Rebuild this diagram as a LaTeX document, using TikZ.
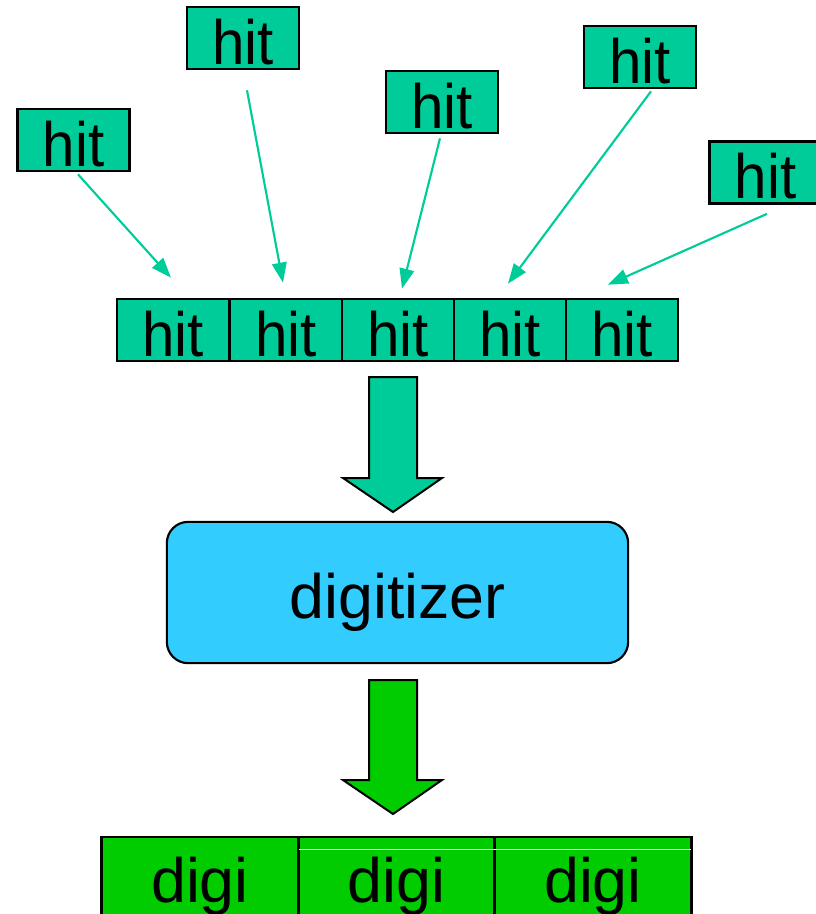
\documentclass[tikz,border=0pt]{standalone}
\usepackage{fontspec}
\usepackage{graphicx}
\setmainfont{Liberation Sans}
\usetikzlibrary{arrows.meta,calc}
\definecolor{hitfill}{HTML}{00CC99}
\definecolor{digifill}{HTML}{00CC00}
\definecolor{procfill}{HTML}{33CCFF}
\newcommand\hittext{\scalebox{0.93}[1]{hit}}
\begin{document}
\begin{tikzpicture}[x=0.75pt,y=-0.75pt,
  bigtext/.style={font=\fontsize{47}{50}\selectfont, text height=39pt, text depth=0pt},
  hitbox/.style={bigtext, draw=black, line width=2pt, fill=hitfill, inner sep=0pt,
    minimum width=84pt, minimum height=46.5pt},
  digibox/.style={bigtext, draw=black, line width=2pt, fill=digifill, inner sep=0pt,
    minimum width=147.4pt, minimum height=58.5pt},
  procbox/.style={bigtext, draw=black, line width=1.6pt, fill=procfill, inner sep=0pt,
    rounded corners=16pt, minimum width=346pt, minimum height=106pt},
  hitarrow/.style={draw=hitfill, line width=1.6pt,
    -{Triangle[length=15pt,width=11pt]}},
  blockarrow/.style={draw=black, line width=1.5pt, line join=miter}]
\clip (0,0) rectangle (816,914);
\useasboundingbox (0,0) rectangle (816,914);

% incoming hits
\node[hitbox] (h1) at (73.5,140)   {\hittext};
\node[hitbox] (h2) at (243,38)     {\hittext};
\node[hitbox] (h3) at (442,102)    {\hittext};
\node[hitbox] (h4) at (640,57)     {\hittext};
\node[hitbox] (h5) at (765.5,172.5){\hittext};

% collected hit row
\node[hitbox] (r1) at (173,330) {\hittext};
\node[hitbox] (r2) at (286,330) {\hittext};
\node[hitbox] (r3) at (398,330) {\hittext};
\node[hitbox] (r4) at (510,330) {\hittext};
\node[hitbox] (r5) at (622,330) {\hittext};

% hit arrows
\draw[hitarrow] ($(h1.south)+(4.5,2)$)  -- ($(r1.north)+(-2,-20)$);
\draw[hitarrow] ($(h2.south)+(4,20)$)   -- ($(r2.north)+(-3,-15)$);
\draw[hitarrow] ($(h3.south)+(-2,4)$)   -- ($(r3.north)+(4,-9)$);
\draw[hitarrow] ($(h4.south)+(11,2)$)   -- ($(r4.north)+(-2,-14)$);
\draw[hitarrow] ($(h5.south)+(1.5,9)$)  -- ($(r5.north)+(-14,-13)$);

% block arrow into the digitizer
\draw[blockarrow, fill=hitfill] (369,377) -- (417,377) -- (417,478) -- (442,478)
  -- (393,512) -- (343,478) -- (369,478) -- cycle;

% digitizer
\node[procbox] (dig) at (397.5,592.5) {digitizer};

% block arrow out of the digitizer
\draw[blockarrow, fill=digifill] (369,680) -- (417,680) -- (417,780) -- (442,780)
  -- (393,814) -- (343,780) -- (369,780) -- cycle;

% digis
\node[digibox] (d1) at (200,876)   {digi};
\node[digibox] (d2) at (396.5,876) {digi};
\node[digibox] (d3) at (593,876)   {digi};
\draw[white, line width=0.8pt] ($(d2.north west)+(2,14)$) -- ($(d3.north east)+(-2,14)$);
\end{tikzpicture}
\end{document}
